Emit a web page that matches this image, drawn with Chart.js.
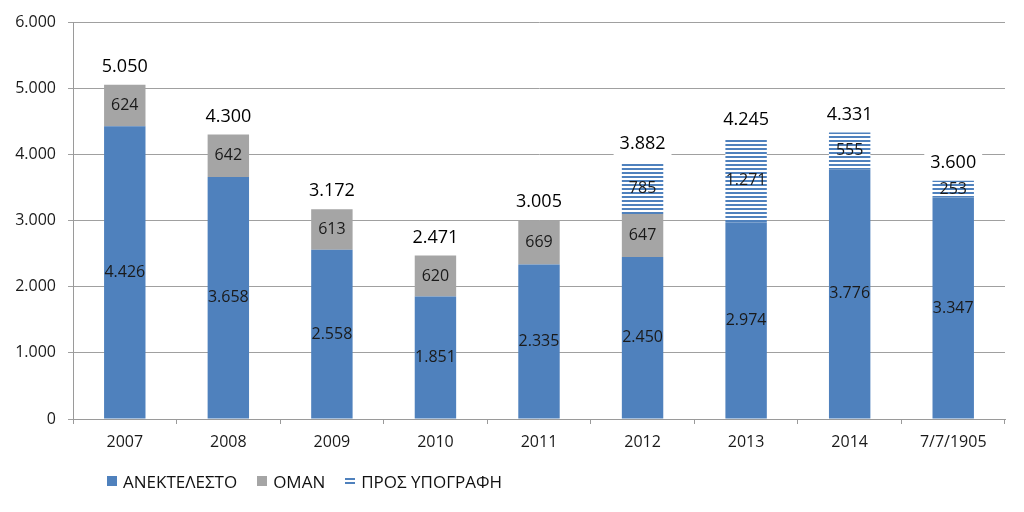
<!DOCTYPE html>
<html>
<head>
<meta charset="utf-8">
<script src="https://cdn.jsdelivr.net/npm/chart.js@4"></script>
<style>
  html, body { margin: 0; padding: 0; background: #fff; }
  #wrap { position: relative; width: 1024px; height: 512px; }
  #legend { position: absolute; left: 107px; top: 469px; height: 24px; display: flex; align-items: center;
            font-family: "Open Sans", "Noto Sans", sans-serif; font-size: 17px; color: #111; }
  .item { display: flex; align-items: center; margin-right: 20px; }
  .sw { width: 10px; height: 10px; margin-right: 6px; }
</style>
</head>
<body>
<div id="wrap">
  <canvas id="c" width="1024" height="512"></canvas>
  <div id="legend"></div>
</div>
<script>
const categories = ['2007','2008','2009','2010','2011','2012','2013','2014','7/7/1905'];
const anektelesto = [4426, 3658, 2558, 1851, 2335, 2450, 2974, 3776, 3347];
const oman = [624, 642, 613, 620, 669, 647, null, null, null];
const prosYpografi = [null, null, null, null, null, 785, 1271, 555, 253];
const totals = [5050, 4300, 3172, 2471, 3005, 3882, 4245, 4331, 3600];
const seriesNames = ['ΑΝΕΚΤΕΛΕΣΤΟ', 'ΟΜΑΝ', 'ΠΡΟΣ ΥΠΟΓΡΑΦΗ'];

const BLUE = '#4F81BD', GRAY = '#A5A5A5';
const FONT = '"Open Sans", "Noto Sans", sans-serif';

function fmt(n) { return String(n).replace(/\B(?=(\d{3})+(?!\d))/g, '.'); }

function stripePattern() {
  const p = document.createElement('canvas');
  p.width = 4; p.height = 4;
  const g = p.getContext('2d');
  g.fillStyle = '#fff'; g.fillRect(0, 0, 4, 4);
  g.fillStyle = BLUE; g.fillRect(0, 0, 4, 2);
  return g.createPattern(p, 'repeat');
}
const stripes = stripePattern();

const labelPlugin = {
  id: 'labels',
  afterDatasetsDraw(chart) {
    const ctx = chart.ctx;
    ctx.save();
    ctx.textAlign = 'center';
    ctx.textBaseline = 'middle';
    ctx.font = '16px ' + FONT;
    ctx.fillStyle = '#1a1a1a';
    chart.data.datasets.forEach((ds, i) => {
      const meta = chart.getDatasetMeta(i);
      meta.data.forEach((el, j) => {
        const v = ds.data[j];
        if (v == null) return;
        ctx.fillText(fmt(v), el.x, (el.y + el.base) / 2);
      });
    });
    // totals
    const ys = chart.scales.y;
    ctx.font = '18px ' + FONT;
    const meta0 = chart.getDatasetMeta(0);
    totals.forEach((t, j) => {
      let sum = 0;
      chart.data.datasets.forEach(ds => { sum += ds.data[j] || 0; });
      const x = meta0.data[j].x;
      const y = ys.getPixelForValue(sum) - 18;
      const s = fmt(t);
      const w = ctx.measureText(s).width;
      ctx.fillStyle = '#fff';
      ctx.fillRect(x - w / 2 - 6, y - 12, w + 12, 24);
      ctx.fillStyle = '#000';
      ctx.fillText(s, x, y);
    });
    ctx.restore();
  }
};

const chart = new Chart(document.getElementById('c'), {
  type: 'bar',
  data: {
    labels: categories,
    datasets: [
      { label: seriesNames[0], data: anektelesto, backgroundColor: BLUE },
      { label: seriesNames[1], data: oman, backgroundColor: GRAY },
      { label: seriesNames[2], data: prosYpografi, backgroundColor: stripes }
    ]
  },
  options: {
    responsive: false,
    animation: false,
    devicePixelRatio: 1,
    layout: { padding: { left: 0, right: 19, top: 22, bottom: 0 } },
    datasets: { bar: { categoryPercentage: 1, barPercentage: 0.4, borderWidth: 0 } },
    plugins: { legend: { display: false }, tooltip: { enabled: false } },
    scales: {
      x: {
        stacked: true,
        afterFit(s) { s.height = 93; },
        grid: { display: true, drawOnChartArea: false, offset: true, tickLength: 5, color: '#9a9a9a' },
        border: { color: '#9a9a9a' },
        ticks: { padding: 9, color: '#1a1a1a', font: { family: FONT, size: 16 } }
      },
      y: {
        stacked: true,
        min: 0, max: 6000,
        afterFit(s) { s.width = 73; },
        grid: { color: '#a0a0a0', tickLength: 5 },
        border: { color: '#9a9a9a' },
        ticks: { stepSize: 1000, padding: 12, color: '#1a1a1a', font: { family: FONT, size: 16 },
                 callback: v => fmt(v) }
      }
    }
  },
  plugins: [labelPlugin]
});

// HTML legend
const legend = document.getElementById('legend');
const swatches = [BLUE, GRAY, null];
seriesNames.forEach((name, i) => {
  const it = document.createElement('div'); it.className = 'item';
  const sw = document.createElement('div'); sw.className = 'sw';
  if (swatches[i]) sw.style.background = swatches[i];
  else sw.style.background = 'linear-gradient(#fff 0 2px, ' + BLUE + ' 2px 4px, #fff 4px 6px, ' + BLUE + ' 6px 8px, #fff 8px 10px)';
  const tx = document.createElement('span'); tx.textContent = name;
  it.appendChild(sw); it.appendChild(tx); legend.appendChild(it);
});
</script>
</body>
</html>
